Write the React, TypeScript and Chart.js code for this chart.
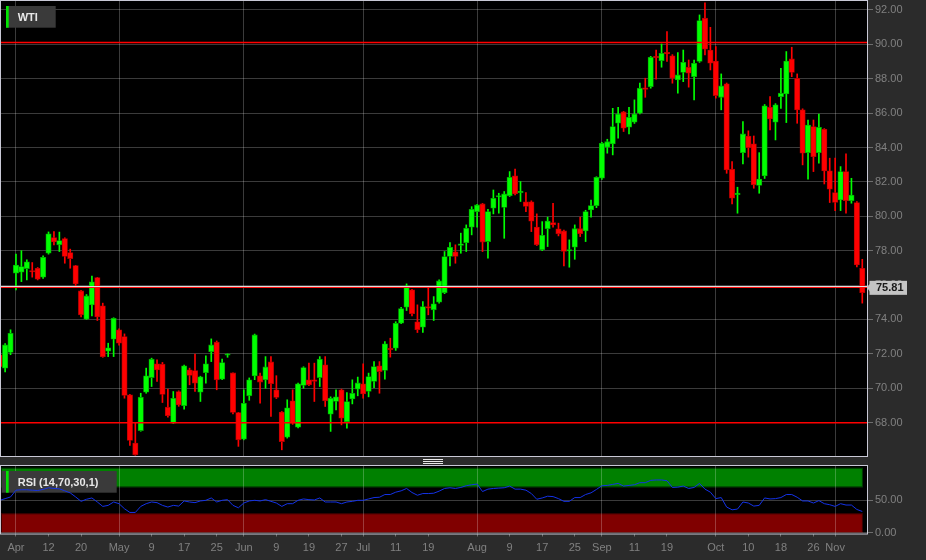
import React, { useEffect, useRef } from "react";
import { Chart, registerables } from "chart.js";

Chart.register(...registerables);

// ---------- data ----------
const dates = [
  "3/29","3/30","3/31",
  "4/3","4/4","4/5","4/6","4/10","4/11","4/12","4/13","4/14","4/17","4/18","4/19","4/20","4/21","4/24","4/25","4/26","4/27","4/28",
  "5/1","5/2","5/3","5/4","5/5","5/8","5/9","5/10","5/11","5/12","5/15","5/16","5/17","5/18","5/19","5/22","5/23","5/24","5/25","5/26","5/29","5/30","5/31",
  "6/1","6/2","6/5","6/6","6/7","6/8","6/9","6/12","6/13","6/14","6/15","6/16","6/19","6/20","6/21","6/22","6/23","6/26","6/27","6/28","6/29","6/30",
  "7/3","7/4","7/5","7/6","7/7","7/10","7/11","7/12","7/13","7/14","7/17","7/18","7/19","7/20","7/21","7/24","7/25","7/26","7/27","7/28","7/31",
  "8/1","8/2","8/3","8/4","8/7","8/8","8/9","8/10","8/11","8/14","8/15","8/16","8/17","8/18","8/21","8/22","8/23","8/24","8/25","8/28","8/29","8/30","8/31",
  "9/1","9/4","9/5","9/6","9/7","9/8","9/11","9/12","9/13","9/14","9/15","9/18","9/19","9/20","9/21","9/22","9/25","9/26","9/27","9/28","9/29",
  "10/2","10/3","10/4","10/5","10/6","10/9","10/10","10/11","10/12","10/13","10/16","10/17","10/18","10/19","10/20","10/23","10/24","10/25","10/26","10/27","10/30","10/31",
  "11/1","11/2","11/3","11/6","11/7","11/8",
];

const open = [
  71.94,71.17,72.08,76.69,76.75,76.96,76.82,76.98,76.46,77.85,
  78.76,78.34,78.71,77.89,77.13,75.66,74.02,74.85,76.44,74.79,
  72.16,72.85,73.40,73.01,69.62,66.81,67.54,69.77,70.62,71.42,
  71.40,68.90,67.97,69.81,68.99,71.07,71.03,69.77,70.91,72.13,
  72.68,70.53,71.92,70.89,68.59,67.04,69.56,70.72,70.72,70.49,
  71.53,69.91,68.61,67.15,69.27,67.74,70.16,70.49,70.46,70.62,
  71.36,68.49,69.23,69.91,68.06,69.38,69.95,70.26,69.81,70.39,
  71.30,71.03,72.30,72.33,73.78,74.71,75.72,73.86,73.55,74.72,
  74.56,75.00,75.56,77.66,77.93,78.30,78.47,79.37,80.27,80.72,
  78.53,80.47,81.12,80.51,81.20,82.35,81.38,80.84,80.84,79.37,
  78.05,79.28,79.64,79.27,79.15,77.98,78.20,79.28,79.15,80.37,
  80.62,82.21,84.02,84.21,85.41,86.07,85.18,85.47,86.00,87.44,
  87.54,89.28,89.05,89.54,89.33,87.93,88.36,88.67,88.12,89.00,
  91.52,89.67,89.03,86.92,87.70,82.74,81.26,83.70,84.67,84.21,
  81.79,82.35,86.34,85.47,86.96,87.12,89.15,88.03,86.19,83.70,
  85.22,83.70,85.06,82.64,81.38,80.95,82.60,80.91,80.80,76.98,
];
const high = [
  72.10,72.60,73.40,77.80,78.00,77.47,77.31,77.02,77.70,79.09,
  79.11,79.08,78.75,78.09,77.15,75.70,75.45,76.53,76.45,74.95,
  72.62,74.10,73.45,73.16,69.65,67.97,69.71,71.17,71.75,71.65,
  71.50,69.95,69.81,69.85,71.35,71.17,71.99,70.70,71.88,72.87,
  72.75,71.69,72.00,70.90,68.60,69.91,70.60,73.15,70.88,71.84,
  71.84,70.73,68.65,69.33,69.91,70.30,71.25,71.46,71.46,71.84,
  71.84,69.50,69.91,69.95,69.75,70.49,70.65,71.42,70.88,71.55,
  71.55,72.72,72.91,73.87,74.70,76.07,75.75,74.85,75.04,75.82,
  75.33,76.30,77.95,78.47,78.34,79.02,79.50,80.56,80.70,80.75,
  80.40,81.53,81.34,81.44,82.60,82.74,82.02,81.38,80.90,80.14,
  79.69,79.95,80.76,79.60,79.20,78.63,79.50,79.95,80.35,80.95,
  82.30,84.30,84.48,86.28,86.34,86.10,86.34,86.77,87.74,88.03,
  89.30,89.67,90.02,90.74,89.40,89.52,89.67,89.09,89.09,91.71,
  92.42,90.99,89.87,88.28,87.75,83.18,81.69,85.51,84.97,84.67,
  83.70,86.50,86.96,86.55,88.61,89.58,89.83,88.28,86.25,85.60,
  85.60,85.94,85.10,83.38,83.38,82.89,83.63,82.21,80.85,77.50,
];
const low = [
  71.10,70.95,71.95,75.72,76.20,76.30,76.46,76.30,76.38,77.80,
  78.34,77.95,77.27,76.98,75.90,74.15,74.00,74.21,73.94,71.80,
  71.84,71.84,72.50,69.42,66.67,66.10,67.50,69.71,70.10,70.39,
  69.17,68.32,67.95,68.95,68.78,70.20,69.81,69.23,70.29,71.55,
  69.91,70.50,71.80,68.50,66.62,67.00,69.30,70.50,69.13,70.00,
  68.36,69.40,66.42,67.10,67.90,67.70,70.00,70.15,69.23,70.10,
  68.94,67.49,68.74,67.87,67.68,69.09,69.56,69.42,69.50,70.04,
  69.71,70.53,71.81,72.20,73.75,74.52,74.20,73.24,73.24,74.27,
  73.94,74.95,75.50,77.12,77.27,77.85,77.95,78.92,79.37,77.95,
  77.56,80.14,80.18,78.72,81.15,81.25,80.86,80.27,79.11,78.30,
  78.00,78.24,79.37,78.86,77.12,77.04,77.50,78.82,78.53,79.95,
  80.50,82.15,83.67,83.57,84.54,84.93,84.79,85.40,85.95,86.92,
  87.45,87.97,88.67,89.00,87.74,87.16,87.83,87.51,86.77,88.95,
  89.38,88.51,86.87,86.19,82.50,80.72,80.18,83.05,83.44,81.63,
  81.34,82.20,85.02,84.44,86.28,85.45,88.12,85.41,82.99,82.16,
  82.60,83.09,81.88,80.80,80.33,80.33,80.18,80.76,77.05,74.95,
];
const close = [
  71.26,72.52,73.20,77.17,77.08,77.35,76.76,76.34,77.62,78.98,
  78.51,78.59,77.66,77.54,76.07,74.27,75.37,76.19,74.15,71.83,
  72.35,74.07,72.62,69.58,66.96,66.13,69.48,70.72,71.69,71.07,
  69.64,68.40,69.42,69.03,71.30,70.74,70.29,70.66,71.42,72.52,
  70.49,71.50,71.96,68.59,67.00,69.13,70.49,73.10,70.36,71.24,
  70.26,69.46,66.90,68.86,67.97,70.26,71.20,70.20,70.40,71.69,
  69.27,69.42,69.50,68.26,69.23,69.71,70.31,69.67,70.68,71.26,
  70.97,72.58,72.24,73.78,74.63,75.95,74.33,73.40,74.75,74.66,
  74.91,76.24,77.66,78.20,77.66,78.40,79.31,80.41,80.66,78.50,
  80.27,81.05,81.18,81.30,82.27,81.30,81.42,80.57,79.72,78.34,
  78.90,79.72,79.50,78.98,77.95,78.03,79.28,78.99,80.27,80.62,
  82.27,84.25,84.34,85.22,85.95,85.12,85.76,85.95,87.45,87.38,
  89.25,89.22,89.48,89.44,88.03,88.22,88.96,88.32,88.90,91.38,
  89.72,88.90,87.02,87.58,82.70,81.05,81.30,84.79,83.99,81.83,
  82.16,86.42,85.66,86.48,87.16,89.03,88.36,86.19,83.67,85.31,
  83.47,85.18,82.64,81.58,80.80,82.60,80.91,81.24,77.17,75.56,
];
const rsi = [
  50.0,52.5,55.2,65.6,66.2,66.2,65.6,65.1,66.7,69.3,
  68.2,67.7,64.6,61.4,55.2,48.4,51.6,53.6,47.4,40.6,
  42.2,47.4,44.8,37.0,31.3,31.3,40.6,44.8,47.4,46.4,
  42.2,39.6,42.2,41.1,49.0,47.4,46.4,49.0,50.0,53.6,
  47.4,50.0,51.0,42.2,38.5,45.8,49.0,50.0,49.0,51.0,
  48.4,45.8,40.6,44.8,44.8,50.0,52.1,51.0,50.5,53.6,
  47.4,47.4,47.4,44.8,47.4,48.4,50.0,50.0,52.1,54.2,
  54.7,58.9,58.9,62.5,64.6,68.2,62.0,57.8,60.4,60.4,
  60.9,64.1,68.2,69.3,68.2,69.8,72.4,74.0,75.0,63.5,
  67.2,68.2,68.8,69.3,71.9,67.2,67.2,65.6,60.4,51.6,
  53.6,56.3,55.7,52.6,48.4,48.4,54.2,54.2,58.9,61.5,
  66.7,72.4,72.9,74.5,76.0,71.9,72.9,74.0,77.1,77.1,
  80.7,81.3,81.3,80.2,69.8,70.3,71.9,68.2,69.8,76.0,
  67.2,62.5,52.6,54.2,39.6,35.4,36.5,47.4,45.8,41.1,
  42.2,53.6,52.1,52.6,54.2,58.9,58.9,54.7,49.0,49.0,
  45.8,49.5,44.8,43.2,40.6,44.8,42.7,42.7,35.9,32.8,
];

const tickDates = ["4/3","4/12","4/20","5/1","5/9","5/17","5/25","6/1","6/9","6/19","6/27","7/3","7/11","7/19","8/1","8/9","8/17","8/25","9/1","9/11","9/19","10/2","10/10","10/18","10/26","11/1"];
const tickLabels = ["Apr","12","20","May","9","17","25","Jun","9","19","27","Jul","11","19","Aug","9","17","25","Sep","11","19","Oct","10","18","26","Nov"];
const monthStarts = ["4/3","5/1","6/1","7/3","8/1","9/1","10/2","11/1"];
const priceTicks = [68, 70, 72, 74, 76, 78, 80, 82, 84, 86, 88, 90, 92];
const rsiTicks = [0, 50];
const levelLines = [90.1, 68.0];
const lastPrice = 75.81;
const rsiUpper = 70;
const rsiLower = 30;
const rsiTop = 100;
const symbolName = "WTI";
const rsiTitle = "RSI (14,70,30,1)";

// ---------- style ----------
const FONT = '"Liberation Sans", Arial, Helvetica, sans-serif';
const GRID = "rgba(255,255,255,0.23)";
const TICK_MARK = "#6e6e6e";
const LABEL = "#808080";
const BORDER = "#c9c9d6";
const X_MIN = 0.24;
const X_MAX = 159.87;
const AXIS_W = 59;

Chart.defaults.font.family = FONT;

export default function App() {
  const mainRef = useRef<HTMLCanvasElement>(null);
  const rsiRef = useRef<HTMLCanvasElement>(null);

  useEffect(() => {
    const idx = (d: string) => dates.indexOf(d);
    const monthIdx = monthStarts.map(idx);
    const tickIdx = tickDates.map(idx);
    const up = close.map((c, i) => c >= open[i]);
    const bright = up.map((u) => (u ? "#00ff00" : "#ff0000"));
    const edge = up.map((u) => (u ? "#00a000" : "#b00000"));

    const labelBox = (ctx: any, x: number, y: number, w: number, h: number, text: string) => {
      ctx.fillStyle = "#3a3a3a";
      ctx.fillRect(x, y, w, h);
      ctx.fillStyle = "#00e600";
      ctx.fillRect(x + (x < 4 ? 4.3 : 0), y, 2.7, h);
      ctx.fillStyle = "#e8e8e8";
      ctx.font = "bold 11px " + FONT;
      ctx.textBaseline = "middle";
      ctx.textAlign = "left";
      ctx.fillText(text, 17.7, y + h / 2 + 0.8);
    };

    const noPad = (s: any) => {
      s.paddingTop = 0;
      s.paddingBottom = 0;
      s.paddingLeft = 0;
      s.paddingRight = 0;
    };

    const mainDeco = {
      id: "mainDeco",
      beforeDraw(chart: any) {
        const { ctx, chartArea: a } = chart;
        ctx.save();
        ctx.fillStyle = "#000";
        ctx.fillRect(a.left, a.top, a.right - a.left, a.bottom - a.top);
        ctx.restore();
      },
      afterDatasetsDraw(chart: any) {
        const { ctx, chartArea: a, scales } = chart;
        const ys = scales.y;
        ctx.save();
        ctx.strokeStyle = "#ff0000";
        ctx.lineWidth = 1.5;
        for (const v of levelLines) {
          const py = ys.getPixelForValue(v);
          ctx.beginPath();
          ctx.moveTo(a.left, py);
          ctx.lineTo(a.right, py);
          ctx.stroke();
        }
        const pp = Math.round(ys.getPixelForValue(lastPrice));
        ctx.lineWidth = 1;
        ctx.strokeStyle = "#e4dcdc";
        ctx.beginPath();
        ctx.moveTo(a.left, pp - 1.5);
        ctx.lineTo(a.right, pp - 1.5);
        ctx.stroke();
        ctx.strokeStyle = "#ff1010";
        ctx.beginPath();
        ctx.moveTo(a.left, pp - 0.5);
        ctx.lineTo(a.right, pp - 0.5);
        ctx.stroke();
        ctx.strokeStyle = BORDER;
        ctx.strokeRect(a.left - 0.5, a.top - 0.5, a.right - a.left + 1, a.bottom - a.top + 1);
        ctx.restore();
      },
      afterDraw(chart: any) {
        const { ctx, chartArea: a, scales } = chart;
        const py = scales.y.getPixelForValue(lastPrice) - 0.5;
        ctx.save();
        ctx.fillStyle = "#c4c4c4";
        ctx.beginPath();
        ctx.moveTo(a.right, py);
        ctx.lineTo(a.right + 3, py - 4);
        ctx.lineTo(a.right + 3, py + 4);
        ctx.closePath();
        ctx.fill();
        ctx.fillRect(a.right + 2.5, py - 7, 37.5, 14);
        ctx.fillStyle = "#1a1a1a";
        ctx.font = "bold 11px " + FONT;
        ctx.textBaseline = "middle";
        ctx.textAlign = "left";
        ctx.fillText(lastPrice.toFixed(2), a.right + 9, py + 0.5);
        labelBox(ctx, 6, 6, 49.7, 21.7, symbolName);
        ctx.restore();
      },
    };

    const mainChart = new Chart(mainRef.current as HTMLCanvasElement, {
      type: "bar",
      data: {
        datasets: [
          {
            type: "bar",
            data: dates.map((_, i) => ({ x: i, y: [low[i], high[i]] })) as any,
            backgroundColor: bright,
            borderWidth: 0,
            barThickness: 1,
            grouped: false,
            order: 2,
          } as any,
          {
            type: "bar",
            data: dates.map((_, i) => ({ x: i, y: [open[i], close[i]] })) as any,
            backgroundColor: bright,
            borderColor: edge,
            borderWidth: 0.8,
            borderSkipped: false,
            barThickness: 5.4,
            minBarLength: 1.5,
            grouped: false,
            order: 1,
          } as any,
        ],
      },
      options: {
        responsive: false,
        animation: false,
        events: [],
        layout: { padding: { left: 1, top: 1, right: 0, bottom: 2 } },
        plugins: { legend: { display: false }, tooltip: { enabled: false } },
        scales: {
          x: {
            type: "linear",
            min: X_MIN,
            max: X_MAX,
            offset: false,
            ticks: { display: false },
            grid: { color: GRID, drawTicks: false, offset: false },
            border: { display: false },
            afterBuildTicks: (s: any) => {
              s.ticks = monthIdx.map((v) => ({ value: v }));
            },
            afterFit: (s: any) => {
              s.height = 0;
              noPad(s);
            },
          },
          y: {
            type: "linear",
            position: "right",
            min: 66.06,
            max: 92.52,
            beginAtZero: false,
            afterBuildTicks: (s: any) => {
              s.ticks = priceTicks.map((v) => ({ value: v }));
            },
            ticks: {
              callback: (v: any) => Number(v).toFixed(2),
              color: LABEL,
              font: { family: FONT, size: 11 },
              padding: 2,
            },
            grid: { color: GRID, tickColor: TICK_MARK, tickLength: 6 },
            border: { display: false },
            afterFit: (s: any) => {
              s.width = AXIS_W;
              noPad(s);
            },
          },
        },
      } as any,
      plugins: [mainDeco],
    });

    const rsiDeco = {
      id: "rsiDeco",
      beforeDraw(chart: any) {
        const { ctx, chartArea: a, scales } = chart;
        const xs = scales.x;
        const ys = scales.y;
        ctx.save();
        ctx.fillStyle = "#000";
        ctx.fillRect(a.left, a.top, a.right - a.left, a.bottom - a.top);
        const x0 = a.left;
        const x1 = xs.getPixelForValue(dates.length - 1) + 0.6;
        const yT = ys.getPixelForValue(rsiTop);
        const y70 = ys.getPixelForValue(rsiUpper);
        const y30 = ys.getPixelForValue(rsiLower);
        const yB = a.bottom - 0.5;
        ctx.fillStyle = "#008000";
        ctx.fillRect(x0, yT, x1 - x0, y70 - yT);
        ctx.fillStyle = "#800000";
        ctx.fillRect(x0, y30, x1 - x0, yB - y30);
        ctx.strokeStyle = "rgba(0,0,0,0.55)";
        ctx.lineWidth = 1;
        ctx.strokeRect(x0 + 0.5, yT + 0.5, x1 - x0 - 1, y70 - yT - 1);
        ctx.strokeRect(x0 + 0.5, y30 + 0.5, x1 - x0 - 1, yB - y30 - 1);
        ctx.restore();
      },
      beforeDatasetsDraw(chart: any) {
        const { ctx } = chart;
        ctx.save();
        labelBox(ctx, 1.7, 13, 115, 21.7, rsiTitle);
        ctx.restore();
      },
      afterDraw(chart: any) {
        const { ctx, chartArea: a } = chart;
        ctx.save();
        ctx.strokeStyle = BORDER;
        ctx.lineWidth = 1;
        ctx.strokeRect(a.left - 0.5, a.top - 0.5, a.right - a.left + 1, a.bottom - a.top + 1);
        ctx.restore();
      },
    };

    const rsiChart = new Chart(rsiRef.current as HTMLCanvasElement, {
      type: "line",
      data: {
        datasets: [
          {
            data: rsi.map((v, i) => ({ x: i, y: v })),
            borderColor: "#1432e6",
            borderWidth: 1,
            pointRadius: 0,
            tension: 0,
            fill: false,
          },
        ],
      },
      options: {
        responsive: false,
        animation: false,
        events: [],
        layout: { padding: { left: 1, top: 8, right: 0, bottom: 0 } },
        plugins: { legend: { display: false }, tooltip: { enabled: false } },
        scales: {
          x: {
            type: "linear",
            min: X_MIN,
            max: X_MAX,
            offset: false,
            afterBuildTicks: (s: any) => {
              s.ticks = tickIdx.map((v) => ({ value: v }));
            },
            ticks: {
              autoSkip: false,
              maxRotation: 0,
              minRotation: 0,
              color: LABEL,
              font: { family: FONT, size: 11 },
              padding: 5,
              callback: (v: any) => tickLabels[tickIdx.indexOf(Number(v))],
            },
            grid: {
              color: (c: any) => (c.tick && monthIdx.includes(c.tick.value) ? GRID : "rgba(0,0,0,0)"),
              tickColor: TICK_MARK,
              tickLength: 3,
              offset: false,
            },
            border: { display: false },
            afterFit: (s: any) => {
              s.height = 26.5;
              noPad(s);
            },
          },
          y: {
            type: "linear",
            position: "right",
            min: -1.1,
            max: 102.8,
            afterBuildTicks: (s: any) => {
              s.ticks = rsiTicks.map((v) => ({ value: v }));
            },
            ticks: {
              callback: (v: any) => Number(v).toFixed(2),
              color: LABEL,
              font: { family: FONT, size: 11 },
              padding: 2,
            },
            grid: { color: GRID, tickColor: TICK_MARK, tickLength: 6 },
            border: { display: false },
            afterFit: (s: any) => {
              s.width = AXIS_W;
              noPad(s);
            },
          },
        },
      } as any,
      plugins: [rsiDeco],
    });

    return () => {
      mainChart.destroy();
      rsiChart.destroy();
    };
  }, []);

  const handleLine = (top: number) => (
    <div style={{ position: "absolute", left: 423, top, width: 20, height: 1, background: "#e8e8e8" }} />
  );

  return (
    <div
      style={{
        position: "absolute",
        left: 0,
        top: 0,
        width: 926,
        height: 560,
        background: "#2b2b2b",
        overflow: "hidden",
      }}
    >
      <canvas ref={mainRef} width={926} height={458} style={{ position: "absolute", left: 0, top: 0, display: "block" }} />
      {handleLine(459)}
      {handleLine(461)}
      {handleLine(463)}
      <canvas ref={rsiRef} width={926} height={102} style={{ position: "absolute", left: 0, top: 458, display: "block" }} />
    </div>
  );
}
